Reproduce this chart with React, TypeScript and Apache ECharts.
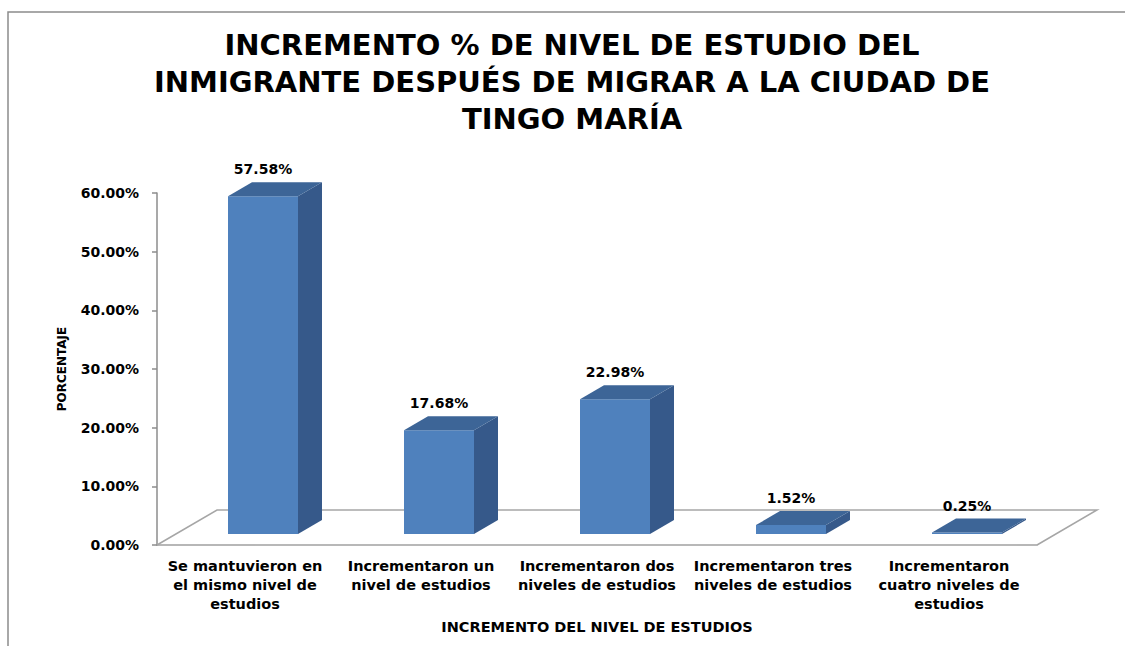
import React, { useEffect, useRef } from "react";
import * as echarts from "echarts";

const TITLE_LINES = [
  "INCREMENTO % DE NIVEL DE ESTUDIO DEL",
  "INMIGRANTE DESPUÉS DE MIGRAR A LA CIUDAD DE",
  "TINGO MARÍA",
];
const CATEGORIES = [
  "Se mantuvieron en\nel mismo nivel de\nestudios",
  "Incrementaron un\nnivel de estudios",
  "Incrementaron dos\nniveles de estudios",
  "Incrementaron tres\nniveles de estudios",
  "Incrementaron\ncuatro niveles de\nestudios",
];
const VALUES = [57.58, 17.68, 22.98, 1.52, 0.25];
const Y_NAME = "PORCENTAJE";
const X_NAME = "INCREMENTO DEL NIVEL DE ESTUDIOS";

const FONT = "DejaVu Sans";

export default function App() {
  const ref = useRef<HTMLDivElement>(null);
  useEffect(() => {
    if (!ref.current) return;
    const chart = echarts.init(ref.current, null, { renderer: "svg" });
    const depthX = 60;
    const depthY = 35;
    const barShiftX = 18;
    const barShiftY = 11;
    const halfW = 35;
    const bdx = 24;
    const bdy = 14;
    const option: any = {
      animation: false,
      backgroundColor: "#ffffff",
      grid: { left: 157, right: 88, top: 193, bottom: 101 },
      graphic: [
        {
          type: "rect",
          shape: { x: 8, y: 12, width: 1300, height: 800 },
          style: { fill: "none", stroke: "#8c8c8c", lineWidth: 1.5 },
          silent: true,
        },
        {
          type: "text",
          x: 572,
          y: 82,
          style: {
            text: TITLE_LINES.join("\n"),
            align: "center",
            verticalAlign: "middle",
            lineHeight: 37,
            fill: "#000000",
            font: `bold 29px "${FONT}"`,
          },
        },
      ],
      xAxis: {
        type: "category",
        data: CATEGORIES,
        name: X_NAME,
        nameLocation: "middle",
        nameGap: 74,
        nameTextStyle: { fontFamily: FONT, fontWeight: "bold", fontSize: 14.5, color: "#000" },
        axisLine: { show: true, lineStyle: { color: "#a0a0a0", width: 1.5 } },
        axisTick: { show: false },
        axisLabel: {
          interval: 0,
          margin: 11,
          lineHeight: 19,
          fontFamily: FONT,
          fontWeight: "bold",
          fontSize: 14.5,
          color: "#000",
        },
      },
      yAxis: {
        type: "value",
        min: 0,
        max: 60,
        interval: 10,
        name: Y_NAME,
        nameLocation: "middle",
        nameRotate: 90,
        nameGap: 89,
        nameTextStyle: { fontFamily: FONT, fontWeight: "bold", fontSize: 12, color: "#000" },
        axisLine: { show: true, lineStyle: { color: "#8c8c8c", width: 1.5 } },
        axisTick: { show: true, length: 5, lineStyle: { color: "#8c8c8c", width: 1.5 } },
        splitLine: { show: false },
        axisLabel: {
          margin: 18,
          formatter: (v: number) => v.toFixed(2) + "%",
          fontFamily: FONT,
          fontWeight: "bold",
          fontSize: 14,
          color: "#000",
        },
      },
      series: [
        {
          type: "custom",
          silent: true,
          data: [[0, 0]],
          renderItem: (params: any, api: any) => {
            const cs = params.coordSys;
            const x0 = cs.x;
            const x1 = cs.x + cs.width;
            const yb = cs.y + cs.height;
            return {
              type: "polyline",
              shape: {
                points: [
                  [x0, yb],
                  [x0 + depthX, yb - depthY],
                  [x1 + depthX, yb - depthY],
                  [x1, yb],
                ],
              },
              style: { stroke: "#a6a6a6", lineWidth: 1.5, fill: "none" },
            };
          },
        },
        {
          type: "custom",
          silent: true,
          data: VALUES.map((v, i) => [i, v]),
          encode: { x: 0, y: 1 },
          renderItem: (params: any, api: any) => {
            const i = api.value(0);
            const v = api.value(1);
            const base = api.coord([i, 0]);
            const top = api.coord([i, v]);
            const cx = base[0] + barShiftX;
            const yB = base[1] - barShiftY;
            const yT = top[1] - barShiftY;
            const l = cx - halfW;
            const r = cx + halfW;
            return {
              type: "group",
              children: [
                {
                  type: "polygon",
                  shape: {
                    points: [
                      [r, yB],
                      [r, yT],
                      [r + bdx, yT - bdy],
                      [r + bdx, yB - bdy],
                    ],
                  },
                  style: { fill: "#36598a" },
                },
                {
                  type: "rect",
                  shape: { x: l, y: yT, width: r - l, height: yB - yT },
                  style: { fill: "#4f81bd" },
                },
                {
                  type: "polygon",
                  shape: {
                    points: [
                      [l, yT],
                      [r, yT],
                      [r + bdx, yT - bdy],
                      [l + bdx, yT - bdy],
                    ],
                  },
                  style: { fill: "#3d6597" },
                },
                {
                  type: "text",
                  x: cx,
                  y: yT - bdy - 13,
                  style: {
                    text: v.toFixed(2) + "%",
                    align: "center",
                    verticalAlign: "middle",
                    fill: "#000",
                    font: `bold 14px "${FONT}"`,
                  },
                },
              ],
            };
          },
        },
      ],
    };
    chart.setOption(option);
    return () => chart.dispose();
  }, []);
  return (
    <div
      ref={ref}
      style={{ position: "absolute", left: 0, top: 0, width: 1125, height: 646 }}
    />
  );
}
